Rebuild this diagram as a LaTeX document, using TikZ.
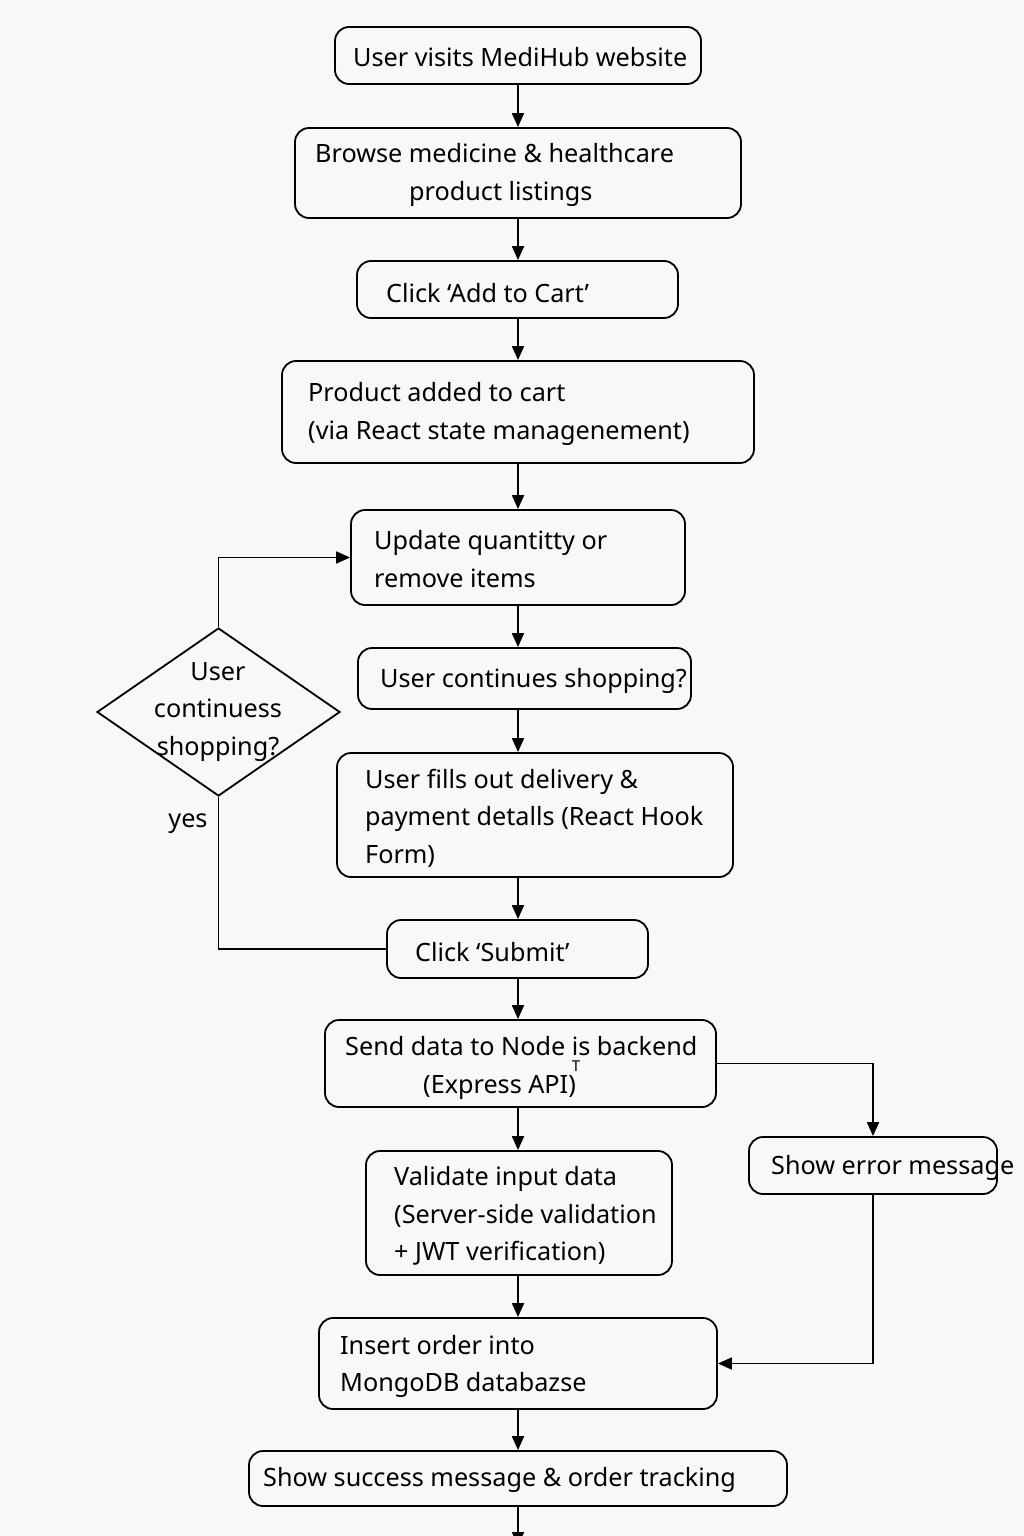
\documentclass[tikz,border=0pt]{standalone}
\usepackage{fontspec}
\setmainfont{Noto Sans}
\usetikzlibrary{arrows.meta,shapes.geometric}
\definecolor{bg}{HTML}{F8F8F8}
\begin{document}
\begin{tikzpicture}[x=1pt,y=-1pt,
  box/.style={draw, rounded corners=14pt, line width=1.8pt, inner sep=0pt},
  txt/.style={inner sep=0pt, align=left, anchor=west, font=\fontsize{25.2}{37.5}\selectfont},
  ctxt/.style={inner sep=0pt, align=center, font=\fontsize{25.2}{37.5}\selectfont},
  line/.style={line width=1.8pt},
  arr/.style={line width=1.8pt, -{Triangle[length=14pt,width=12pt]}}]
\useasboundingbox[fill=bg] (0,0) rectangle (1024,1536);
\coordinate (ax) at (518,0);
% boxes
\node[box, minimum width=366pt, minimum height=57pt] (b1) at (518,55.5) {};
\node[txt] (t1) at (353,57.5) {User visits MediHub website};
\node[box, minimum width=446pt, minimum height=90pt] (b2) at (518,173) {};
\node[txt] (t2) at (315,175) {Browse medicine \& healthcare\\\hspace*{94pt}product listings};
\node[box, minimum width=321pt, minimum height=57pt] (b3) at (517.5,289.5) {};
\node[txt] (t3) at (386,293) {Click ‘Add to Cart’};
\node[box, minimum width=472pt, minimum height=102pt] (b4) at (518,412) {};
\node[txt] (t4) at (308,414) {Product added to cart\\(via React state managenement)};
\node[box, minimum width=334pt, minimum height=95pt] (b5) at (518,557.5) {};
\node[txt] (t5) at (374,559) {Update quantitty or\\remove items};
\node[box, minimum width=333pt, minimum height=61pt] (b6) at (524.5,678.5) {};
\node[txt] (t6) at (380,681) {User continues shopping?};
\node[box, minimum width=396pt, minimum height=124pt] (b7) at (535,815) {};
\node[txt] (t7) at (365,818) {User fills out delivery \&\\payment detalls (React Hook\\Form)};
\node[box, minimum width=261pt, minimum height=58pt] (b8) at (517.5,949) {};
\node[txt] (t8) at (415,952) {Click ‘Submit’};
\node[box, minimum width=391pt, minimum height=87pt] (b9) at (520.5,1063.5) {};
\node[txt] (t9) at (345,1068) {Send data to Node is backend\\\hspace*{78pt}(Express API)};
\node[font=\fontsize{15}{15}\selectfont, inner sep=0pt] (tT) at (576,1066) {T};
\node[box, minimum width=306pt, minimum height=124pt] (b10) at (519,1213) {};
\node[txt] (t10) at (394,1216) {Validate input data\\(Server-side validation\\+ JWT verification)};
\node[box, minimum width=248pt, minimum height=57pt] (b11) at (873,1165.5) {};
\node[txt] (t11) at (771,1168) {Show error message};
\node[box, minimum width=398pt, minimum height=91pt] (b12) at (518,1363.5) {};
\node[txt] (t12) at (340,1366.5) {Insert order into\\MongoDB databazse};
\node[box, minimum width=538pt, minimum height=55pt] (b13) at (518,1478.5) {};
\node[txt] (t13) at (263,1480) {Show success message \& order tracking};
% decision
\node[draw, diamond, line width=1.8pt, inner sep=0pt, aspect=1.446,
  minimum width=243pt, minimum height=168pt] (dia) at (218.5,712) {};
\node[ctxt] (tdia) at (218,712) {User\\continuess\\shopping?};
\node[ctxt] (yes) at (188,824) {yes};
% connectors
\draw[arr] (b1.south) -- (b2.north);
\draw[arr] (b2.south) -- (ax |- b3.north);
\draw[arr] (ax |- b3.south) -- (b4.north);
\draw[arr] (b4.south) -- (b5.north);
\draw[arr] (b5.south) -- (ax |- b6.north);
\draw[arr] (ax |- b6.south) -- (ax |- b7.north);
\draw[arr] (ax |- b7.south) -- (ax |- b8.north);
\draw[arr] (ax |- b8.south) -- (ax |- b9.north);
\draw[arr] (ax |- b9.south) -- (ax |- b10.north);
\draw[arr] (ax |- b10.south) -- (b12.north);
\draw[arr] (b12.south) -- (b13.north);
\coordinate (bottomend) at (518,1546);
\draw[arr] (b13.south) -- (bottomend);
\draw[line] (b8.west) -| (dia.south);
\draw[arr] (dia.north) |- (b5.west);
\draw[arr] (b9.east) -| (b11.north);
\draw[arr] (b11.south) |- (b12.east);
\end{tikzpicture}
\end{document}
